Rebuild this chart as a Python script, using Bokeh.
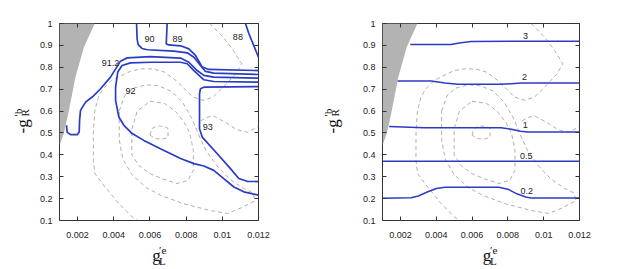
import math
from bokeh.plotting import figure
from bokeh.models import Range1d, LinearAxis, FixedTicker
from bokeh.layouts import row, column
from bokeh.core.properties import value
from bokeh.embed import file_html
from bokeh.resources import INLINE

# ---------------- data ----------------
x_ticks = [0.002, 0.004, 0.006, 0.008, 0.010, 0.012]
x_tick_labels = ["0.002", "0.004", "0.006", "0.008", "0.01", "0.012"]
y_ticks = [0.1, 0.2, 0.3, 0.4, 0.5, 0.6, 0.7, 0.8, 0.9, 1.0]
y_tick_labels = ["0.1", "0.2", "0.3", "0.4", "0.5", "0.6", "0.7", "0.8", "0.9", "1"]

# excluded (grey) region
excl_x = [0.001, 0.00295, 0.00235, 0.00188, 0.00152, 0.00124, 0.001]
excl_y = [1.0, 1.0, 0.892, 0.755, 0.603, 0.497, 0.443]

# dashed background contours (both panels)
dS_x = [0.0060, 0.0061, 0.0064, 0.0068, 0.0070, 0.0070, 0.0067, 0.0063, 0.0060]
dS_y = [0.49, 0.52, 0.532, 0.53, 0.52, 0.48, 0.472, 0.474, 0.49]
dE_x = [0.0060, 0.0068, 0.0074, 0.0079, 0.0082, 0.0084, 0.0084, 0.0081, 0.0075, 0.0067, 0.0060, 0.0054, 0.0050, 0.0050, 0.0053, 0.0060]
dE_y = [0.645, 0.635, 0.60, 0.547, 0.50, 0.42, 0.33, 0.283, 0.269, 0.29, 0.314, 0.35, 0.40, 0.52, 0.60, 0.645]
dD_x = [0.0043, 0.0046, 0.0051, 0.0058, 0.0065, 0.0072, 0.0078, 0.0083, 0.0087, 0.0091, 0.0097, 0.0104, 0.0111, 0.0117, 0.0118, 0.0111, 0.0103, 0.0093, 0.0078, 0.0066, 0.0058, 0.0050, 0.0045, 0.0043, 0.0043]
dD_y = [0.60, 0.67, 0.705, 0.72, 0.715, 0.69, 0.64, 0.57, 0.49, 0.42, 0.35, 0.29, 0.25, 0.225, 0.19, 0.16, 0.132, 0.146, 0.178, 0.215, 0.25, 0.31, 0.38, 0.47, 0.60]
dB_x = [0.0093, 0.01005, 0.01061, 0.01107, 0.01075, 0.01024, 0.00949, 0.00893, 0.00837, 0.00744, 0.0068, 0.0062, 0.0056, 0.0050, 0.0045, 0.00389, 0.0034, 0.00315, 0.00295, 0.00287, 0.00287, 0.00296, 0.00352, 0.00427, 0.00501, 0.0053]
dB_y = [1.0, 0.937, 0.877, 0.816, 0.77, 0.725, 0.664, 0.649, 0.664, 0.740, 0.778, 0.792, 0.793, 0.785, 0.765, 0.740, 0.70, 0.664, 0.60, 0.497, 0.375, 0.314, 0.253, 0.178, 0.117, 0.1]
dF_x = [0.0088, 0.0091, 0.0095, 0.0102, 0.0108, 0.0114, 0.0120]
dF_y = [0.555, 0.57, 0.578, 0.547, 0.515, 0.503, 0.53]
dashed_x = [dS_x, dE_x, dD_x, dB_x, dF_x]
dashed_y = [dS_y, dE_y, dD_y, dB_y, dF_y]

# left panel: solid contours
c88_x = [0.01128, 0.01147, 0.01174, 0.0120]
c88_y = [1.0, 0.953, 0.899, 0.846]
c89_x = [0.00695, 0.00690, 0.00704, 0.00769, 0.00815, 0.00852, 0.00889, 0.00925, 0.0120]
c89_y = [1.0, 0.907, 0.902, 0.898, 0.884, 0.854, 0.801, 0.790, 0.785]
c90_x = [0.00526, 0.00529, 0.00535, 0.00556, 0.00585, 0.00732, 0.00806, 0.00843, 0.00879, 0.00907, 0.00953, 0.0120]
c90_y = [1.0, 0.930, 0.903, 0.886, 0.880, 0.874, 0.866, 0.846, 0.808, 0.781, 0.773, 0.767]
c912_x = [0.00139, 0.00142, 0.00161, 0.00198, 0.00209, 0.00211, 0.00216, 0.00244, 0.00281, 0.00327, 0.00382, 0.00437, 0.00474, 0.00603, 0.00769, 0.00815, 0.00861, 0.00898, 0.00953, 0.0120]
c912_y = [0.535, 0.504, 0.492, 0.492, 0.504, 0.557, 0.603, 0.641, 0.664, 0.702, 0.755, 0.828, 0.843, 0.849, 0.842, 0.823, 0.785, 0.763, 0.755, 0.750]
c92_x = [0.0120, 0.00953, 0.00898, 0.00843, 0.00806, 0.00769, 0.00603, 0.00492, 0.00446, 0.00422, 0.00410, 0.00410, 0.00428, 0.00456, 0.00502, 0.00566, 0.00658, 0.00769, 0.00843, 0.00898, 0.00953, 0.01008, 0.01064, 0.01119, 0.0120]
c92_y = [0.732, 0.735, 0.743, 0.785, 0.816, 0.823, 0.823, 0.820, 0.808, 0.778, 0.709, 0.649, 0.573, 0.535, 0.497, 0.466, 0.428, 0.383, 0.360, 0.349, 0.329, 0.291, 0.253, 0.231, 0.216]
c93_x = [0.0120, 0.00898, 0.00879, 0.00874, 0.00874, 0.00889, 0.00972, 0.01045, 0.01091, 0.01137, 0.0120]
c93_y = [0.712, 0.709, 0.702, 0.679, 0.519, 0.481, 0.405, 0.337, 0.292, 0.279, 0.278]
left_lines_x = [c88_x, c89_x, c90_x, c912_x, c92_x, c93_x]
left_lines_y = [c88_y, c89_y, c90_y, c912_y, c92_y, c93_y]
left_lab_text = ["90", "89", "88", "91.2", "92", "93"]
left_lab_x = [0.00598, 0.00752, 0.01086, 0.00382, 0.00492, 0.00920]
left_lab_y = [0.930, 0.930, 0.937, 0.820, 0.691, 0.527]

# right panel: solid contours
r3_x = [0.00255, 0.00482, 0.00538, 0.00594, 0.0120]
r3_y = [0.904, 0.904, 0.912, 0.918, 0.919]
r2_x = [0.00184, 0.00371, 0.0045, 0.0052, 0.00762, 0.0082, 0.00874, 0.0120]
r2_y = [0.737, 0.737, 0.728, 0.722, 0.722, 0.725, 0.728, 0.728]
r1_x = [0.00137, 0.0033, 0.00762, 0.0082, 0.0087, 0.00912, 0.0120]
r1_y = [0.530, 0.524, 0.524, 0.517, 0.508, 0.504, 0.504]
r05_x = [0.001, 0.0120]
r05_y = [0.371, 0.371]
r02_x = [0.001, 0.0026, 0.0030, 0.0035, 0.0040, 0.0045, 0.0075, 0.0080, 0.0085, 0.0090, 0.0093, 0.0120]
r02_y = [0.202, 0.204, 0.212, 0.230, 0.246, 0.252, 0.252, 0.243, 0.222, 0.207, 0.203, 0.203]
right_lines_x = [r3_x, r2_x, r1_x, r05_x, r02_x]
right_lines_y = [r3_y, r2_y, r1_y, r05_y, r02_y]
right_lab_text = ["3", "2", "1", "0.5", "0.2"]
right_lab_x = [0.00898, 0.00893, 0.00897, 0.00902, 0.00906]
right_lab_y = [0.945, 0.755, 0.535, 0.393, 0.235]

# axis titles (pieces: main, superscript, subscript)
xlab_parts = ["g", "\u2032e", "L"]
ylab_parts = ["-g", "\u2032b", "R"]

BLUE = "#2a3cc4"
GREY_FILL = "#b3b3b3"
DASH = "#9a9a9a"
AXC = "#333333"
TXT = "#111111"
SANS = "Liberation Sans"
SERIF = "Liberation Serif"

FRAME_H = 197
B_TOP, B_BOT = 23, 23
PANEL_H = B_TOP + FRAME_H + B_BOT
XLAB_H = 24
X0, X1, Y0, Y1 = 0.001, 0.012, 0.1, 1.0


def make_panel(bl, br, fw):
    p = figure(frame_width=fw, frame_height=FRAME_H,
               x_range=Range1d(X0, X1), y_range=Range1d(Y0, Y1),
               output_backend="svg", toolbar_location=None,
               x_axis_location=None, y_axis_location=None,
               min_border_left=bl, min_border_right=br,
               min_border_top=B_TOP, min_border_bottom=B_BOT)
    p.grid.visible = False
    p.outline_line_color = AXC
    p.outline_line_width = 1
    for loc, ticks, labs in [("below", x_ticks, x_tick_labels), ("above", x_ticks, None),
                             ("left", y_ticks, y_tick_labels), ("right", y_ticks, None)]:
        if labs is None:
            ov = {t: "" for t in ticks}
        else:
            ov = {t: l for t, l in zip(ticks, labs)}
        ax = LinearAxis(ticker=FixedTicker(ticks=ticks, minor_ticks=[]),
                        major_label_overrides=ov)
        ax.axis_line_color = None
        ax.major_tick_in = 4
        ax.major_tick_out = 0
        ax.major_tick_line_color = AXC
        ax.minor_tick_line_color = None
        ax.major_label_text_font = SANS
        ax.major_label_text_font_size = "9px"
        ax.major_label_text_color = "#222222"
        if labs is None:
            ax.major_label_text_color = None
            ax.major_label_standoff = 0
        elif loc == "below":
            ax.major_label_standoff = 11
        else:
            ax.major_label_standoff = 7
        p.add_layout(ax, loc)
    p.patch(excl_x, excl_y, fill_color=GREY_FILL, line_color=None)
    p.multi_line(dashed_x, dashed_y, line_color=DASH, line_width=0.8, line_dash="4 3")
    return p


def text_fig(w, h):
    f = figure(width=w, height=h, x_range=Range1d(0, w), y_range=Range1d(0, h),
               output_backend="svg", toolbar_location=None,
               x_axis_location=None, y_axis_location=None, min_border=0)
    f.grid.visible = False
    f.outline_line_color = None
    return f


def xlabel_fig(w, g_off):
    f = text_fig(w, XLAB_H)
    # main letter, superscript, subscript
    f.text(x=[g_off], y=[XLAB_H - 12], text=[xlab_parts[0]], text_font=value(SERIF),
           text_font_size="17px", text_align="left", text_baseline="alphabetic", text_color=TXT)
    f.text(x=[g_off + 9], y=[XLAB_H - 6.5], text=[xlab_parts[1]], text_font=value(SERIF),
           text_font_size="11px", text_align="left", text_baseline="alphabetic", text_color=TXT)
    f.text(x=[g_off + 9], y=[XLAB_H - 17.5], text=[xlab_parts[2]], text_font=value(SERIF),
           text_font_size="11px", text_align="left", text_baseline="alphabetic", text_color=TXT)
    return f


def ylabel_fig(w, base_x):
    f = text_fig(w, PANEL_H)
    ang = math.pi / 2
    f.text(x=[base_x], y=[PANEL_H - 133], text=[ylab_parts[0]], angle=ang, text_font=value(SERIF),
           text_font_size="17px", text_align="left", text_baseline="alphabetic", text_color=TXT)
    f.text(x=[base_x - 4.5], y=[PANEL_H - 116], text=[ylab_parts[1]], angle=ang, text_font=value(SERIF),
           text_font_size="11px", text_align="left", text_baseline="alphabetic", text_color=TXT)
    f.text(x=[base_x + 2.5], y=[PANEL_H - 116], text=[ylab_parts[2]], angle=ang, text_font=value(SERIF),
           text_font_size="11px", text_align="left", text_baseline="alphabetic", text_color=TXT)
    return f


# left panel
FW1 = 199
p1 = make_panel(23, 42, FW1)
p1.multi_line(left_lines_x, left_lines_y, line_color=BLUE, line_width=1.7)
p1.text(x=left_lab_x, y=left_lab_y, text=left_lab_text, text_font=value(SANS),
        text_font_size="9px", text_align="center", text_baseline="middle", text_color="#222222")
yl1 = ylabel_fig(36, 21.5)
xl1 = xlabel_fig(23 + FW1 + 42, 123)

# right panel
FW2 = 197
p2 = make_panel(23, 20, FW2)
p2.multi_line(right_lines_x, right_lines_y, line_color=BLUE, line_width=1.5)
p2.text(x=right_lab_x, y=right_lab_y, text=right_lab_text, text_font=value(SANS),
        text_font_size="9px", text_align="center", text_baseline="middle", text_color="#222222")
yl2 = ylabel_fig(59, 31.5)
xl2 = xlabel_fig(23 + FW2 + 20, 122)

layout = row(yl1, column(p1, xl1), yl2, column(p2, xl2))
open("out.html", "w").write(file_html(layout, INLINE))
